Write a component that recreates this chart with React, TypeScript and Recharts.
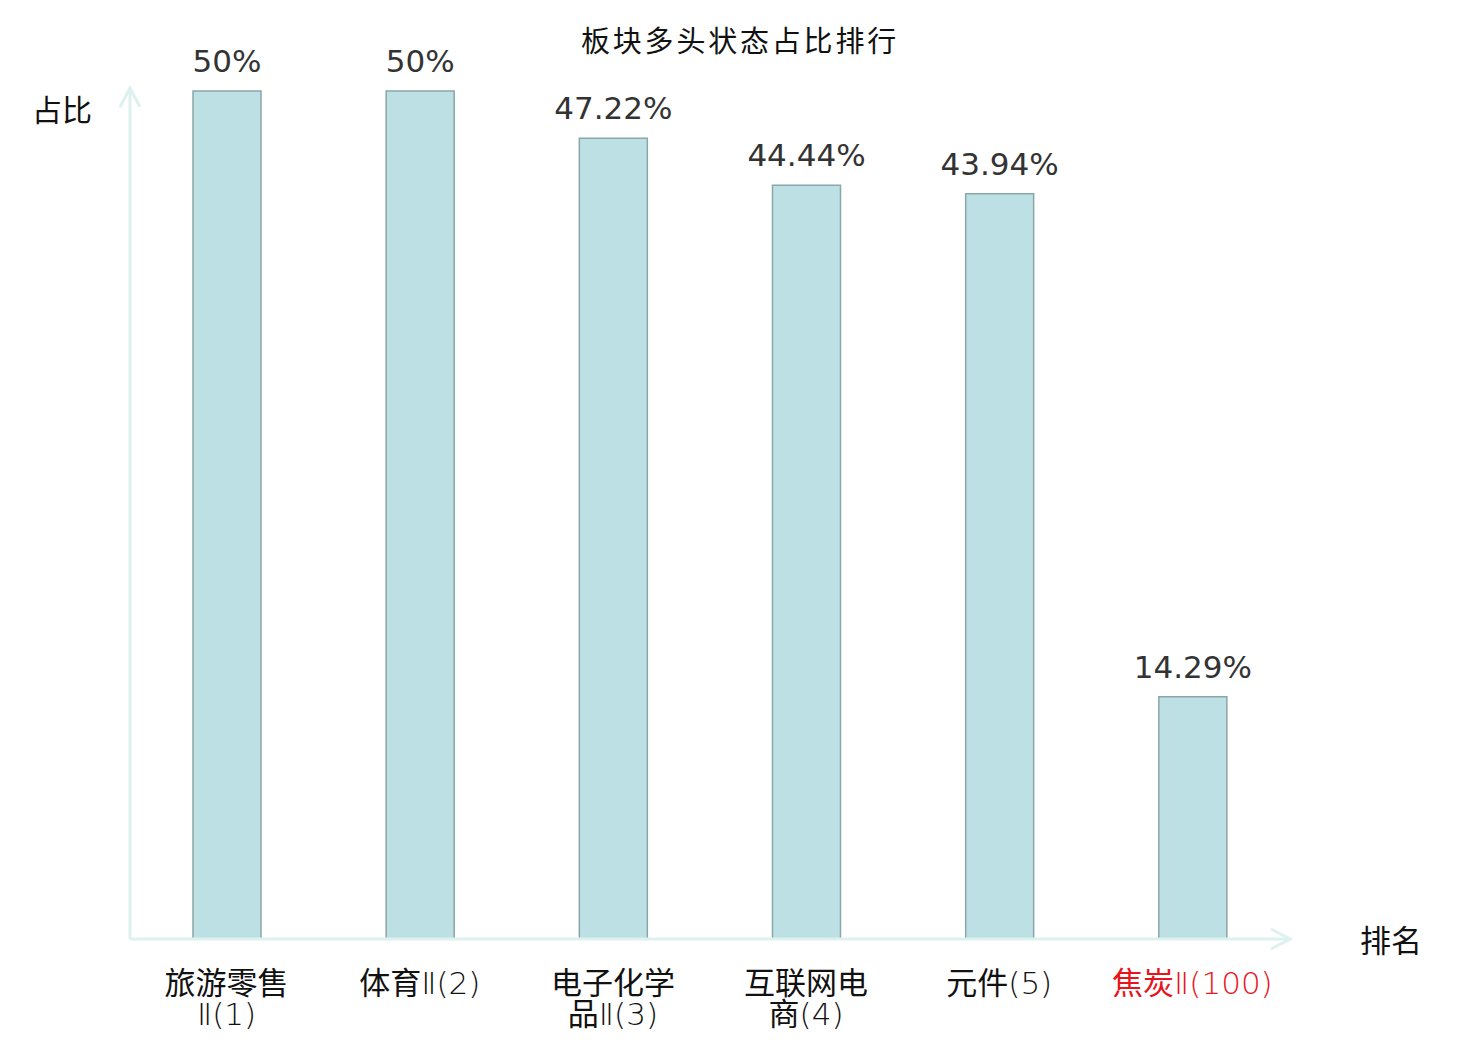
import React from 'react';
import { BarChart, Bar, XAxis, YAxis, LabelList, ReferenceLine } from 'recharts';

const categories = ['旅游零售Ⅱ(1)', '体育Ⅱ(2)', '电子化学品Ⅱ(3)', '互联网电商(4)', '元件(5)', '焦炭Ⅱ(100)'];
const ratios = [50, 50, 47.22, 44.44, 43.94, 14.29];
const highlighted = ['焦炭Ⅱ(100)'];
const yDomain = [0, 50];
const title = '板块多头状态占比排行';
const yName = '占比';
const xName = '排名';

const data = categories.map((name, i) => ({ name, value: ratios[i] }));

const W = 1464;
const H = 1030;
const AXIS_COLOR = '#ddf1ee';
const CJK_FONT = '"Noto Sans CJK SC", "Noto Sans", sans-serif';
const LATIN_FONT = '"DejaVu Sans", sans-serif';

const isCJK = (ch: string) => /[\u3400-\u9fff]/.test(ch);

function wrapLabel(label: string, maxEm: number) {
  const tokens: string[] = [];
  let buf = '';
  for (const ch of label) {
    if (isCJK(ch)) {
      if (buf) { tokens.push(buf); buf = ''; }
      tokens.push(ch);
    } else buf += ch;
  }
  if (buf) tokens.push(buf);
  const tw = (t: string) => (isCJK(t) ? 1 : t.length * 0.45);
  const lines: string[][] = [[]];
  let w = 0;
  for (const t of tokens) {
    const tWidth = tw(t);
    if (w + tWidth > maxEm && lines[lines.length - 1].length) {
      lines.push([]);
      w = 0;
    }
    lines[lines.length - 1].push(t);
    w += tWidth;
  }
  return lines;
}

const CategoryTick = (props: any) => {
  const { x, y, payload } = props;
  const label: string = payload.value;
  const lines = wrapLabel(label, 4.8);
  const color = highlighted.includes(label) ? '#e8141b' : '#111';
  return (
    <g>
      {lines.map((line, li) => (
        <text key={li} x={x} y={y + 55 + li * 31} textAnchor="middle" fontSize={31} fill={color}>
          {line.map((t, ti) =>
            isCJK(t) ? (
              <tspan key={ti} fontFamily={CJK_FONT} fontWeight={400}>{t}</tspan>
            ) : (
              <tspan key={ti} fontFamily={LATIN_FONT} fontWeight={200}>{t}</tspan>
            )
          )}
        </text>
      ))}
    </g>
  );
};

const XAxisArrow = (props: any) => {
  const { x1, x2, y1 } = props;
  const left = Math.min(x1, x2);
  const right = Math.max(x1, x2) + 1;
  return (
    <g>
      <line x1={left} y1={y1} x2={right} y2={y1} stroke={AXIS_COLOR} strokeWidth={3} />
      <polyline points={`${right - 19},${y1 - 10} ${right},${y1} ${right - 19},${y1 + 10}`} fill="none" stroke={AXIS_COLOR} strokeWidth={3} />
    </g>
  );
};

const YAxisArrow = (props: any) => {
  const { x1, y1, y2 } = props;
  const top = Math.min(y1, y2) - 3;
  const bottom = Math.max(y1, y2);
  return (
    <g>
      <line x1={x1} y1={bottom} x2={x1} y2={top} stroke={AXIS_COLOR} strokeWidth={3} />
      <polyline points={`${x1 - 10},${top + 19} ${x1},${top} ${x1 + 10},${top + 19}`} fill="none" stroke={AXIS_COLOR} strokeWidth={3} />
    </g>
  );
};

export default function App() {
  return (
    <div style={{ position: 'relative', width: W, height: H }}>
      <BarChart width={W} height={H} data={data} margin={{ top: 83, right: 183, left: 122, bottom: 0 }}>
        <XAxis
          dataKey="name"
          axisLine={false}
          tickLine={false}
          tickSize={0}
          tickMargin={0}
          height={99}
          interval={0}
          tick={<CategoryTick />}
        />
        <YAxis hide domain={yDomain} type="number" />
        <ReferenceLine y={0} shape={<XAxisArrow />} />
        <ReferenceLine x={categories[0]} position="start" shape={<YAxisArrow />} />
        <Bar dataKey="value" barSize={68} fill="#bce0e3" stroke="#8aa6a8" strokeWidth={1.5} isAnimationActive={false}>
          <LabelList
            dataKey="value"
            position="top"
            offset={19}
            formatter={(v: any) => `${v}%`}
            fill="#333"
            fontSize={31}
            fontFamily={LATIN_FONT}
          />
        </Bar>
      </BarChart>
      <svg width={W} height={H} style={{ position: 'absolute', left: 0, top: 0, pointerEvents: 'none' }}>
        <text x={732} y={44} textAnchor="middle" fontFamily={CJK_FONT} fontSize={29} letterSpacing={2.8} fill="#111">{title}</text>
        <text x={24} y={113} fontFamily={CJK_FONT} fontSize={30} fill="#111">{yName}</text>
        <text x={1352} y={944} fontFamily={CJK_FONT} fontSize={31} fill="#111">{xName}</text>
      </svg>
    </div>
  );
}
